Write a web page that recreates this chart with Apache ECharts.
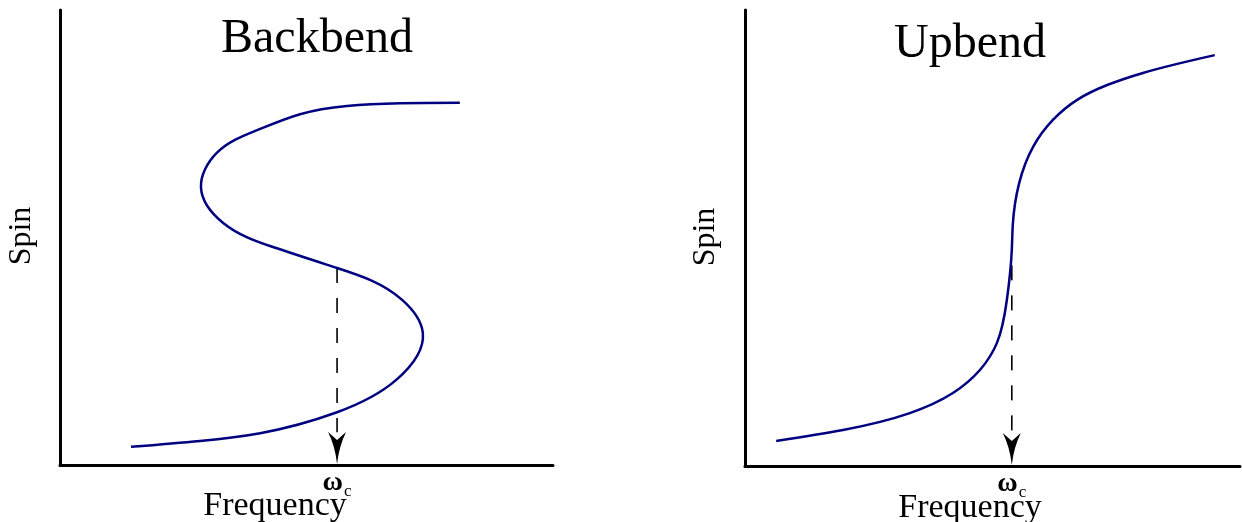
<!DOCTYPE html>
<html>
<head>
<meta charset="utf-8">
<style>
  html, body { margin: 0; padding: 0; background: #fff; }
  #chart { width: 1242px; height: 522px; }
</style>
<script src="https://cdn.jsdelivr.net/npm/echarts@6/dist/echarts.min.js"></script>
</head>
<body>
<div id="chart"></div>
<script>
// Backbend: spin vs rotational frequency folds back on itself (S-shaped)
const backbendFreq = [1.44, 2.84, 4.06, 5.62, 6.82, 7.36, 6.94, 5.62, 4.32, 3.31, 2.86, 3.18, 4.00, 4.87, 5.82, 6.90, 8.11];
const backbendSpin = [0.40, 0.53, 0.70, 1.16, 1.87, 2.90, 3.63, 4.33, 4.79, 5.32, 6.09, 6.86, 7.36, 7.71, 7.89, 7.95, 7.96];

// Upbend: spin rises steeply near the critical frequency without turning back
const upbendFreq = [0.63, 1.98, 3.33, 4.20, 4.75, 5.09, 5.29, 5.39, 5.41, 5.54, 5.82, 6.22, 6.71, 7.33, 8.04, 9.49];
const upbendSpin = [0.55, 0.79, 1.16, 1.60, 2.11, 2.70, 3.64, 4.74, 5.29, 6.21, 7.00, 7.59, 8.03, 8.36, 8.62, 9.01];

// Critical frequency ωc and the spin range covered by the dashed guide
const omegaC = [5.62, 5.39];
const guideTop = [4.33, 4.40];
const guideBottom = 0.72;

const panelTitles = ['Backbend', 'Upbend'];
const xName = 'Frequency';
const yName = 'Spin';

const serif = '"Liberation Serif", "DejaVu Serif", serif';
const curveColor = '#000080';

const zip = (xs, ys) => xs.map((x, i) => [x, ys[i]]);

const grids = [
  { left: 60, top: 10, width: 493, height: 455 },
  { left: 745, top: 10, width: 495, height: 456 }
];

function xAxis(i) {
  return {
    type: 'value', gridIndex: i, min: 0, max: 10,
    axisLine: { show: true, lineStyle: { color: '#000', width: 3 } },
    axisTick: { show: false },
    splitLine: { show: false },
    axisLabel: {
      show: true,
      customValues: [omegaC[i]],
      margin: 4,
      formatter: () => '{w|ω}{c|c}',
      rich: {
        w: { fontFamily: serif, fontSize: 28, fontWeight: 'bold', color: '#000', verticalAlign: 'bottom' },
        c: { fontFamily: serif, fontSize: 17, color: '#000', verticalAlign: 'bottom', padding: [0, 0, -3, 1] }
      }
    }
  };
}
function yAxis(i) {
  return {
    type: 'value', gridIndex: i, min: 0, max: 10,
    axisLine: { show: true, lineStyle: { color: '#000', width: 3 } },
    axisTick: { show: false },
    splitLine: { show: false },
    axisLabel: { show: false }
  };
}

// Second derivatives of a natural cubic spline through values v at parameters t
function splineM(t, v) {
  const n = v.length;
  const M = new Array(n).fill(0);
  if (n < 3) return M;
  const a = [], b = [], c = [], r = [];
  for (let i = 1; i < n - 1; i++) {
    const h0 = t[i] - t[i - 1], h1 = t[i + 1] - t[i];
    a.push(h0); b.push(2 * (h0 + h1)); c.push(h1);
    r.push(6 * ((v[i + 1] - v[i]) / h1 - (v[i] - v[i - 1]) / h0));
  }
  const m = b.length;
  for (let i = 1; i < m; i++) {
    const w = a[i] / b[i - 1];
    b[i] -= w * c[i - 1];
    r[i] -= w * r[i - 1];
  }
  const x = new Array(m);
  x[m - 1] = r[m - 1] / b[m - 1];
  for (let i = m - 2; i >= 0; i--) x[i] = (r[i] - c[i] * x[i + 1]) / b[i];
  for (let i = 0; i < m; i++) M[i + 1] = x[i];
  return M;
}

// Smooth curve through the data points: parametric natural cubic spline (chord-length
// parameter) drawn as cubic Béziers, each point placed by the axis scales (api.coord).
function renderCurve(params, api) {
  if (params.dataIndexInside !== 0) return null;
  const n = params.dataInsideLength;
  const px = [], py = [];
  for (let k = 0; k < n; k++) {
    const p = api.coord([api.value(0, k), api.value(1, k)]);
    px.push(p[0]); py.push(p[1]);
  }
  const t = [0];
  for (let k = 1; k < n; k++) t.push(t[k - 1] + Math.hypot(px[k] - px[k - 1], py[k] - py[k - 1]));
  const Mx = splineM(t, px), My = splineM(t, py);
  let d = 'M' + px[0] + ',' + py[0];
  for (let k = 0; k < n - 1; k++) {
    const h = t[k + 1] - t[k];
    const dx0 = (px[k + 1] - px[k]) / h - h * (2 * Mx[k] + Mx[k + 1]) / 6;
    const dy0 = (py[k + 1] - py[k]) / h - h * (2 * My[k] + My[k + 1]) / 6;
    const dx1 = (px[k + 1] - px[k]) / h + h * (Mx[k] + 2 * Mx[k + 1]) / 6;
    const dy1 = (py[k + 1] - py[k]) / h + h * (My[k] + 2 * My[k + 1]) / 6;
    d += ' C' + (px[k] + dx0 * h / 3) + ',' + (py[k] + dy0 * h / 3) + ' ' +
      (px[k + 1] - dx1 * h / 3) + ',' + (py[k + 1] - dy1 * h / 3) + ' ' + px[k + 1] + ',' + py[k + 1];
  }
  return {
    type: 'path',
    shape: { pathData: d },
    style: { stroke: curveColor, lineWidth: 2.5, fill: null, lineJoin: 'round', lineCap: 'butt' }
  };
}

// Dashed drop line from the curve down to ωc, ending in an arrowhead on the axis
function renderGuide(params, api) {
  const x = api.value(0);
  const top = api.coord([x, api.value(1)]);
  const bot = api.coord([x, api.value(2)]);
  const tip = api.coord([x, 0]);
  const tx = tip[0], ty = tip[1] - 1;
  const arrow = 'M' + tx + ',' + ty +
    ' Q' + (tx + 2) + ',' + (ty - 18) + ' ' + (tx + 9) + ',' + (ty - 32) +
    ' L' + tx + ',' + (ty - 24) +
    ' L' + (tx - 9) + ',' + (ty - 32) +
    ' Q' + (tx - 2) + ',' + (ty - 18) + ' ' + tx + ',' + ty + ' Z';
  return {
    type: 'group',
    children: [
      {
        type: 'line',
        shape: { x1: top[0], y1: top[1], x2: bot[0], y2: bot[1] },
        style: { stroke: '#000', lineWidth: 1.6, lineDash: [15, 15] }
      },
      {
        type: 'path',
        shape: { pathData: arrow },
        style: { fill: '#000', stroke: null }
      }
    ]
  };
}

function panelSeries(i, freq, spin) {
  return [
    {
      type: 'custom', xAxisIndex: i, yAxisIndex: i,
      data: zip(freq, spin),
      renderItem: renderCurve,
      encode: { x: 0, y: 1 },
      clip: false, z: 3, silent: true
    },
    {
      type: 'custom', xAxisIndex: i, yAxisIndex: i,
      data: [[omegaC[i], guideTop[i], guideBottom]],
      renderItem: renderGuide,
      encode: { x: 0, y: [1, 2] },
      clip: false, z: 2, silent: true
    }
  ];
}

function text(str, x, y, size, opts) {
  return Object.assign({
    type: 'text', x: x, y: y,
    style: { text: str, font: size + 'px ' + serif, fill: '#000', textAlign: 'center', textVerticalAlign: 'middle' }
  }, opts || {});
}

const chart = echarts.init(document.getElementById('chart'), null, { renderer: 'canvas' });
chart.setOption({
  animation: false,
  backgroundColor: '#fff',
  grid: grids,
  xAxis: [xAxis(0), xAxis(1)],
  yAxis: [yAxis(0), yAxis(1)],
  series: [
    ...panelSeries(0, backbendFreq, backbendSpin),
    ...panelSeries(1, upbendFreq, upbendSpin)
  ],
  graphic: [
    text(panelTitles[0], 317, 39, 48),
    text(panelTitles[1], 970, 44, 48),
    text(xName, 275, 506, 34),
    text(xName, 970, 508, 34),
    text(yName, 22, 236, 32, { rotation: Math.PI / 2 }),
    text(yName, 706, 237, 32, { rotation: Math.PI / 2 })
  ]
});
</script>
</body>
</html>
